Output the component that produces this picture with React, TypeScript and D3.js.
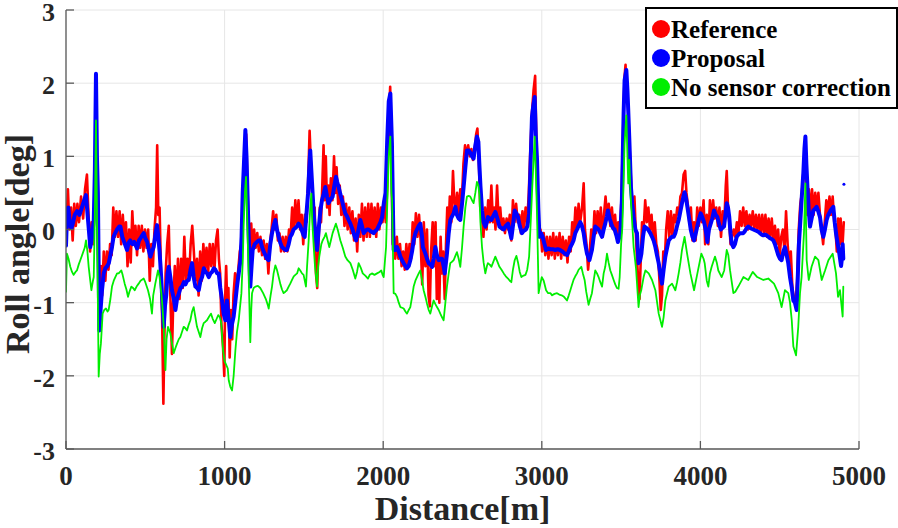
import React from "react";
import * as d3 from "d3";

const W = 898;
const H = 528;

const xTicks = [0, 1000, 2000, 3000, 4000, 5000];
const yTicks = [-3, -2, -1, 0, 1, 2, 3];
const legendLabels = ["Reference", "Proposal", "No sensor correction"];
const seriesColors = ["#ff0000", "#0000ff", "#00ee00"];

const referenceData: [number, number][] = [
[0,-0.1],[12,0.55],[22,0.0],[32,0.3],[42,-0.15],[52,0.35],[62,0.05],[72,0.35],[82,0.1],[95,0.45],[108,0.15],[120,0.55],[132,0.75],[142,0.2],[152,-0.3],[162,0.1],[172,-0.2],[180,0.5],[188,1.5],[196,0.6],[204,-0.6],[212,-1.1],[220,-0.5],[228,-0.9],[238,-0.3],[248,-0.7],[258,-0.3],[268,-0.55],[278,-0.2],[288,-0.35],[298,0.3],[308,-0.1],[318,0.25],[328,-0.1],[338,0.25],[348,-0.2],[358,0.2],[368,-0.15],[378,0.1],[388,-0.5],[398,0.0],[408,-0.45],[418,0.25],[428,-0.2],[438,0.05],[448,-0.35],[458,0.05],[468,-0.25],[478,0.05],[488,-0.3],[498,0.0],[508,-0.25],[518,0.0],[528,-0.7],[538,-0.2],[548,-0.5],[558,0.0],[568,0.3],[575,1.15],[582,0.2],[590,0.3],[598,-0.5],[606,-1.2],[614,-2.38],[620,-1.5],[628,-0.6],[638,-0.2],[648,0.05],[658,-0.9],[668,-1.7],[676,-1.0],[686,-0.5],[696,-1.0],[706,-0.4],[716,-0.95],[726,-0.4],[736,-0.8],[746,-0.1],[756,-0.7],[766,-0.4],[776,-0.65],[786,-0.2],[796,0.05],[806,-0.3],[816,-0.7],[826,-0.4],[836,-0.9],[846,-0.3],[856,-0.7],[866,-0.2],[876,-0.55],[886,-0.25],[896,-0.6],[906,-0.2],[916,-0.5],[926,-0.2],[936,-0.55],[946,-0.15],[956,0.0],[964,-0.4],[972,-0.6],[980,-1.3],[990,-1.6],[998,-2.0],[1004,-0.9],[1010,-0.5],[1016,-1.0],[1024,-0.8],[1032,-1.75],[1040,-1.1],[1048,-1.5],[1056,-0.9],[1066,-0.6],[1076,-0.8],[1086,-0.55],[1096,-0.3],[1106,-0.2],[1118,0.5],[1128,1.1],[1136,1.3],[1144,0.6],[1152,0.0],[1160,-0.2],[1168,0.08],[1176,-0.3],[1186,0.0],[1196,-0.25],[1206,-0.05],[1216,-0.3],[1226,-0.1],[1236,-0.35],[1246,-0.15],[1256,-0.4],[1266,-0.2],[1276,-0.6],[1286,-0.2],[1296,0.0],[1306,0.25],[1316,0.0],[1326,0.2],[1336,-0.15],[1346,-0.05],[1356,-0.3],[1366,-0.1],[1376,-0.3],[1386,-0.1],[1396,-0.3],[1406,0.0],[1416,-0.1],[1426,0.3],[1436,0.0],[1446,0.4],[1456,0.05],[1466,0.4],[1476,0.0],[1486,0.2],[1496,-0.2],[1506,0.2],[1516,0.1],[1526,0.6],[1536,1.35],[1544,0.9],[1552,0.5],[1560,0.0],[1568,0.3],[1576,-0.6],[1584,-0.8],[1592,-0.2],[1600,0.3],[1608,0.1],[1616,0.6],[1624,1.15],[1630,0.4],[1638,1.0],[1646,0.3],[1654,0.6],[1662,0.2],[1670,0.7],[1680,0.4],[1690,1.0],[1698,0.5],[1706,0.85],[1716,0.35],[1726,0.6],[1736,0.2],[1746,0.45],[1756,0.05],[1766,0.35],[1776,0.0],[1786,0.3],[1796,-0.05],[1806,0.25],[1816,-0.15],[1826,0.15],[1836,-0.3],[1846,0.2],[1856,-0.1],[1866,0.35],[1876,-0.15],[1886,0.3],[1896,-0.1],[1906,0.35],[1916,-0.1],[1926,0.35],[1936,-0.05],[1946,0.3],[1956,-0.1],[1966,0.35],[1976,0.0],[1986,0.3],[1996,0.1],[2006,0.4],[2016,0.1],[2026,0.6],[2036,1.5],[2044,1.95],[2052,1.0],[2060,-0.2],[2068,-0.1],[2076,-0.4],[2086,-0.1],[2096,-0.4],[2106,-0.2],[2116,-0.5],[2126,-0.3],[2136,-0.55],[2146,-0.2],[2156,-0.5],[2166,-0.2],[2176,-0.4],[2186,0.1],[2196,-0.2],[2206,0.22],[2216,-0.1],[2226,0.2],[2236,-0.15],[2246,-0.75],[2256,0.1],[2266,-0.5],[2276,0.0],[2286,-0.9],[2294,-1.05],[2302,-0.3],[2312,0.1],[2322,-0.5],[2330,0.1],[2338,-0.95],[2346,-0.4],[2354,-1.0],[2362,-0.1],[2370,-0.6],[2378,-0.3],[2388,-0.95],[2396,-0.2],[2404,0.3],[2412,0.0],[2420,0.45],[2430,0.1],[2440,0.8],[2448,0.4],[2456,0.25],[2466,0.5],[2476,0.2],[2486,0.55],[2496,0.4],[2506,0.9],[2516,1.15],[2526,1.0],[2536,1.15],[2546,1.0],[2556,1.1],[2566,0.95],[2576,1.05],[2586,1.3],[2594,1.38],[2602,1.0],[2612,0.3],[2622,0.2],[2632,-0.1],[2642,0.3],[2652,0.0],[2662,0.4],[2672,0.1],[2682,0.6],[2692,0.1],[2700,0.3],[2708,0.0],[2718,0.6],[2728,0.1],[2738,0.3],[2748,0.0],[2758,0.15],[2768,-0.05],[2778,0.15],[2788,0.0],[2798,0.2],[2808,-0.15],[2818,0.4],[2828,0.1],[2838,0.35],[2848,0.1],[2858,0.2],[2868,-0.05],[2878,0.25],[2888,0.0],[2898,0.3],[2908,0.1],[2918,0.5],[2928,1.1],[2938,1.6],[2948,1.9],[2958,2.1],[2966,1.2],[2974,0.5],[2982,-0.1],[2992,0.0],[3002,-0.3],[3012,-0.05],[3022,-0.35],[3032,-0.1],[3042,-0.4],[3052,-0.1],[3062,-0.35],[3072,-0.05],[3082,-0.4],[3092,-0.1],[3102,-0.35],[3112,-0.05],[3122,-0.4],[3132,-0.1],[3142,-0.35],[3152,-0.15],[3162,-0.45],[3172,-0.1],[3182,-0.3],[3192,0.1],[3202,-0.1],[3212,0.3],[3222,0.0],[3232,0.35],[3242,0.1],[3254,0.3],[3264,0.63],[3272,0.0],[3282,-0.2],[3292,-0.55],[3302,-0.3],[3312,0.0],[3322,-0.2],[3332,0.25],[3342,-0.05],[3352,0.25],[3362,0.0],[3372,0.3],[3382,-0.1],[3392,0.2],[3402,0.45],[3412,0.15],[3422,0.35],[3432,0.05],[3442,0.3],[3452,0.0],[3462,0.2],[3472,-0.1],[3482,0.1],[3492,-0.1],[3502,0.4],[3512,1.3],[3522,2.1],[3528,2.25],[3536,1.8],[3544,1.7],[3552,1.2],[3560,0.8],[3568,0.4],[3576,0.2],[3584,0.45],[3592,0.0],[3600,-0.4],[3608,-0.7],[3616,-0.95],[3624,-0.4],[3632,0.1],[3642,0.0],[3652,0.4],[3662,0.1],[3672,0.3],[3682,0.0],[3692,0.2],[3702,-0.15],[3712,0.1],[3722,-0.2],[3732,-0.3],[3742,-0.7],[3750,-1.1],[3758,-0.9],[3766,-0.3],[3774,-0.5],[3784,0.0],[3794,0.25],[3804,-0.1],[3814,0.25],[3824,-0.1],[3834,0.2],[3844,0.1],[3854,0.3],[3864,0.2],[3874,0.45],[3884,0.5],[3894,0.75],[3904,0.8],[3912,0.5],[3920,0.35],[3930,0.1],[3940,0.3],[3950,-0.15],[3960,0.1],[3970,-0.15],[3980,0.3],[3990,0.05],[4000,0.3],[4010,0.1],[4020,0.4],[4030,-0.2],[4040,0.2],[4050,-0.2],[4060,0.4],[4070,0.1],[4080,0.4],[4090,0.15],[4100,0.3],[4110,0.05],[4120,0.3],[4130,-0.1],[4140,0.25],[4150,0.05],[4160,0.6],[4166,0.8],[4174,0.3],[4182,0.1],[4190,-0.2],[4200,-0.1],[4210,0.0],[4220,-0.1],[4230,0.1],[4240,-0.05],[4250,0.25],[4260,0.05],[4270,0.3],[4280,0.05],[4290,0.25],[4300,0.0],[4310,0.2],[4320,0.05],[4330,0.25],[4340,0.0],[4350,0.2],[4360,0.0],[4370,0.2],[4380,-0.05],[4390,0.2],[4400,-0.05],[4410,0.2],[4420,-0.1],[4430,0.15],[4440,-0.1],[4450,0.15],[4460,-0.15],[4470,0.05],[4480,-0.2],[4490,0.0],[4500,-0.35],[4510,-0.1],[4520,0.0],[4530,-0.3],[4540,0.25],[4550,-0.2],[4560,-0.5],[4570,-0.3],[4580,-0.8],[4590,-0.95],[4600,-1.0],[4610,-0.7],[4620,0.0],[4630,0.35],[4640,0.5],[4650,0.8],[4658,1.05],[4666,0.6],[4674,0.2],[4684,0.55],[4694,0.2],[4704,0.55],[4714,0.2],[4724,0.5],[4734,0.3],[4744,0.5],[4754,0.2],[4764,0.0],[4774,-0.2],[4784,0.1],[4794,0.4],[4804,0.2],[4814,0.45],[4824,0.2],[4834,0.45],[4844,0.1],[4852,0.0],[4860,-0.3],[4868,0.15],[4876,-0.2],[4884,0.15],[4894,-0.3],[4904,0.1]
];

const proposalData: [number, number][] = [
[0,-0.22],[8,0.28],[15,0.3],[25,0.05],[35,0.02],[45,0.1],[55,0.2],[70,0.25],[85,0.2],[100,0.3],[115,0.4],[126,0.47],[140,0.1],[153,-0.24],[165,-0.1],[175,0.13],[182,0.8],[189,2.13],[195,1.0],[201,0.5],[210,-1.38],[218,-1.1],[227,-0.83],[238,-0.6],[248,-0.53],[260,-0.5],[270,-0.46],[280,-0.35],[290,-0.24],[300,-0.1],[310,-0.05],[322,0.0],[335,0.04],[343,0.04],[355,-0.1],[368,-0.18],[385,-0.28],[395,-0.18],[405,-0.15],[418,-0.2],[430,-0.17],[448,-0.26],[460,-0.15],[470,-0.12],[480,-0.08],[490,-0.05],[500,-0.12],[512,-0.17],[522,-0.28],[532,-0.37],[542,-0.3],[553,-0.24],[565,-0.05],[574,0.06],[582,-0.1],[590,-0.3],[600,-0.65],[608,-1.0],[616,-1.33],[624,-1.05],[632,-0.9],[640,-0.6],[648,-0.51],[658,-0.65],[668,-0.83],[680,-0.95],[690,-1.1],[700,-0.95],[712,-0.87],[722,-0.8],[732,-0.78],[743,-0.72],[753,-0.75],[764,-0.7],[774,-0.69],[785,-0.55],[795,-0.46],[805,-0.65],[816,-0.78],[827,-0.8],[837,-0.83],[848,-0.7],[858,-0.65],[869,-0.53],[880,-0.58],[890,-0.6],[900,-0.65],[911,-0.6],[921,-0.58],[932,-0.53],[942,-0.55],[953,-0.6],[963,-0.6],[973,-0.8],[984,-0.97],[994,-1.15],[1005,-1.24],[1015,-0.97],[1025,-1.2],[1036,-1.47],[1046,-1.3],[1057,-1.19],[1067,-1.0],[1078,-0.78],[1089,-0.6],[1100,-0.42],[1107,-0.1],[1114,0.49],[1122,0.9],[1131,1.36],[1138,1.0],[1148,0.2],[1155,-0.3],[1162,-0.78],[1170,-0.5],[1177,-0.28],[1190,-0.2],[1204,-0.17],[1215,-0.15],[1226,-0.15],[1236,-0.24],[1247,-0.3],[1257,-0.35],[1268,-0.4],[1278,-0.42],[1288,-0.2],[1299,-0.05],[1309,0.05],[1320,0.13],[1330,0.0],[1341,-0.1],[1351,-0.18],[1362,-0.24],[1372,-0.26],[1383,-0.28],[1393,-0.28],[1404,-0.2],[1414,-0.1],[1425,-0.06],[1435,0.0],[1446,0.02],[1456,0.04],[1467,0.08],[1477,0.05],[1488,-0.02],[1498,-0.08],[1505,-0.1],[1512,0.1],[1526,0.49],[1533,0.8],[1540,1.08],[1547,0.8],[1555,0.49],[1562,0.2],[1572,-0.05],[1583,-0.28],[1593,0.0],[1604,0.26],[1614,0.4],[1625,0.49],[1635,0.58],[1646,0.45],[1655,0.36],[1665,0.4],[1681,0.45],[1692,0.6],[1702,0.72],[1710,0.65],[1719,0.58],[1730,0.48],[1740,0.4],[1751,0.3],[1761,0.22],[1772,0.18],[1782,0.13],[1793,0.08],[1807,0.0],[1818,-0.08],[1829,-0.15],[1840,-0.05],[1856,0.13],[1866,0.05],[1877,-0.05],[1887,-0.02],[1898,0.0],[1908,0.0],[1919,-0.02],[1940,-0.05],[1950,-0.02],[1961,0.0],[1972,0.05],[1983,0.1],[1993,0.17],[2004,0.36],[2015,0.5],[2025,1.2],[2035,1.75],[2045,1.86],[2055,1.18],[2062,0.2],[2066,-0.28],[2077,-0.28],[2087,-0.24],[2098,-0.3],[2108,-0.37],[2119,-0.42],[2129,-0.46],[2140,-0.5],[2150,-0.53],[2161,-0.5],[2171,-0.42],[2182,-0.3],[2192,-0.15],[2203,-0.05],[2213,0.0],[2224,0.05],[2234,0.08],[2245,-0.1],[2250,-0.24],[2266,-0.33],[2276,-0.4],[2287,-0.46],[2297,-0.48],[2308,-0.51],[2318,-0.4],[2329,-0.24],[2339,-0.35],[2350,-0.42],[2360,-0.4],[2371,-0.4],[2381,-0.5],[2388,-0.6],[2402,-0.33],[2413,-0.05],[2423,0.13],[2434,0.18],[2444,0.22],[2455,0.31],[2465,0.2],[2476,0.15],[2486,0.13],[2497,0.35],[2507,0.58],[2518,0.85],[2528,1.08],[2539,1.08],[2549,1.05],[2560,1.0],[2570,0.97],[2581,1.15],[2591,1.27],[2600,1.2],[2606,0.9],[2613,0.6],[2623,0.26],[2633,0.1],[2644,0.04],[2654,0.1],[2660,0.17],[2672,0.15],[2682,0.13],[2693,0.18],[2707,0.24],[2720,0.15],[2733,0.04],[2746,0.02],[2760,0.0],[2773,0.05],[2787,0.08],[2798,-0.02],[2808,-0.12],[2818,0.05],[2829,0.26],[2840,0.22],[2850,0.17],[2861,0.05],[2875,-0.05],[2885,-0.02],[2900,0.0],[2910,0.05],[2920,0.22],[2928,0.8],[2938,1.54],[2947,1.7],[2955,1.81],[2962,1.3],[2970,0.95],[2978,0.3],[2985,-0.1],[2995,-0.05],[3005,-0.1],[3016,-0.19],[3027,-0.28],[3040,-0.26],[3055,-0.27],[3070,-0.27],[3085,-0.28],[3100,-0.27],[3115,-0.28],[3130,-0.3],[3145,-0.33],[3159,-0.35],[3170,-0.3],[3180,-0.24],[3190,-0.2],[3200,-0.15],[3211,-0.05],[3222,0.0],[3232,0.05],[3243,0.1],[3253,0.05],[3264,-0.05],[3274,-0.2],[3285,-0.33],[3300,-0.42],[3316,-0.28],[3327,-0.1],[3337,0.04],[3348,0.02],[3358,0.0],[3369,-0.05],[3380,-0.1],[3390,0.0],[3400,0.08],[3410,0.18],[3417,0.26],[3428,0.15],[3438,0.08],[3449,0.02],[3459,0.0],[3470,-0.08],[3480,-0.17],[3490,-0.1],[3495,-0.05],[3505,0.4],[3510,0.95],[3516,1.6],[3522,2.04],[3533,2.18],[3540,1.9],[3545,1.63],[3552,1.22],[3562,0.58],[3570,0.35],[3579,0.17],[3590,0.0],[3600,-0.05],[3610,-0.46],[3620,-0.42],[3628,-0.33],[3638,-0.1],[3648,0.04],[3660,0.02],[3670,0.0],[3684,-0.05],[3695,-0.1],[3705,-0.15],[3716,-0.24],[3726,-0.35],[3737,-0.46],[3747,-0.6],[3758,-0.74],[3768,-0.55],[3779,-0.37],[3790,-0.25],[3800,-0.15],[3811,-0.12],[3821,-0.1],[3832,-0.1],[3842,-0.05],[3853,0.05],[3863,0.13],[3874,0.25],[3884,0.36],[3893,0.45],[3900,0.51],[3910,0.42],[3918,0.31],[3929,0.15],[3939,0.0],[3950,-0.1],[3960,-0.15],[3971,-0.05],[3981,0.05],[3992,0.15],[4002,0.22],[4012,0.17],[4023,0.1],[4033,0.0],[4044,-0.17],[4054,0.0],[4065,0.08],[4075,0.15],[4086,0.26],[4096,0.2],[4107,0.17],[4117,0.08],[4128,0.0],[4138,0.02],[4149,0.04],[4158,0.2],[4166,0.36],[4174,0.3],[4182,0.17],[4190,-0.05],[4197,-0.19],[4208,-0.24],[4218,-0.2],[4229,-0.1],[4240,-0.07],[4250,-0.05],[4260,-0.05],[4271,-0.05],[4281,-0.02],[4292,0.02],[4302,0.04],[4313,0.02],[4323,0.01],[4334,0.0],[4344,-0.01],[4355,-0.02],[4365,-0.03],[4376,-0.05],[4386,-0.07],[4397,-0.08],[4407,-0.07],[4418,-0.08],[4428,-0.1],[4439,-0.12],[4449,-0.13],[4460,-0.15],[4470,-0.2],[4481,-0.28],[4491,-0.35],[4502,-0.4],[4512,-0.42],[4523,-0.3],[4533,-0.24],[4544,-0.35],[4554,-0.46],[4565,-0.65],[4575,-0.78],[4586,-0.97],[4596,-1.0],[4607,-1.1],[4614,-0.65],[4621,-0.2],[4628,0.04],[4638,0.4],[4649,0.77],[4656,1.1],[4662,1.27],[4668,0.9],[4675,0.58],[4682,0.3],[4691,0.04],[4701,0.15],[4712,0.26],[4722,0.28],[4733,0.31],[4743,0.25],[4754,0.17],[4764,0.0],[4775,-0.1],[4785,0.0],[4796,0.13],[4806,0.2],[4821,0.26],[4838,0.31],[4847,0.1],[4855,-0.05],[4866,-0.2],[4876,-0.33],[4887,-0.5],[4891,-0.42],[4897,-0.2],[4901,-0.4]
];

const proposalOutlier: [number, number][] = [[4905, 0.62]];

const noCorrectionData: [number, number][] = [
[0,-0.85],[6,-0.33],[16,-0.4],[27,-0.51],[38,-0.58],[48,-0.62],[60,-0.58],[69,-0.56],[80,-0.48],[90,-0.42],[105,-0.33],[118,-0.25],[126,-0.15],[135,-0.3],[143,-0.51],[153,-0.7],[160,-0.83],[170,-0.7],[175,-0.65],[182,0.2],[189,1.49],[195,0.3],[200,-0.8],[206,-2.01],[213,-1.7],[220,-1.56],[231,-1.15],[241,-1.1],[252,-1.08],[262,-1.12],[269,-1.1],[280,-0.95],[290,-0.78],[301,-0.7],[311,-0.65],[322,-0.6],[332,-0.6],[349,-0.56],[357,-0.62],[370,-0.74],[381,-0.82],[391,-0.92],[400,-0.85],[412,-0.78],[423,-0.8],[433,-0.83],[445,-0.78],[458,-0.74],[470,-0.7],[490,-0.67],[500,-0.72],[517,-0.83],[530,-0.95],[542,-1.15],[550,-0.9],[563,-0.74],[580,-0.56],[590,-0.65],[601,-0.87],[608,-1.05],[616,-1.33],[627,-1.92],[634,-1.5],[643,-1.33],[658,-1.42],[668,-1.55],[679,-1.69],[690,-1.62],[700,-1.56],[711,-1.5],[721,-1.47],[742,-1.33],[753,-1.35],[763,-1.38],[774,-1.3],[784,-1.24],[795,-1.12],[805,-1.06],[816,-1.2],[826,-1.33],[837,-1.4],[847,-1.47],[858,-1.35],[868,-1.28],[879,-1.26],[889,-1.24],[900,-1.2],[914,-1.15],[925,-1.22],[938,-1.28],[950,-1.22],[960,-1.17],[970,-1.2],[979,-1.28],[990,-1.65],[1000,-1.8],[1010,-1.85],[1020,-1.9],[1026,-2.06],[1036,-2.15],[1047,-2.2],[1057,-2.0],[1068,-1.65],[1078,-1.4],[1089,-1.24],[1100,-1.0],[1106,-0.87],[1115,-0.4],[1120,0.04],[1128,0.5],[1135,0.72],[1142,0.2],[1150,-0.5],[1156,-1.0],[1162,-1.54],[1168,-1.1],[1173,-0.87],[1183,-0.8],[1194,-0.78],[1210,-0.77],[1225,-0.8],[1243,-0.87],[1260,-0.95],[1272,-1.03],[1278,-1.08],[1290,-0.9],[1299,-0.78],[1309,-0.6],[1320,-0.49],[1330,-0.55],[1341,-0.65],[1352,-0.75],[1362,-0.82],[1372,-0.87],[1383,-0.85],[1393,-0.83],[1404,-0.78],[1414,-0.74],[1425,-0.69],[1436,-0.64],[1446,-0.62],[1457,-0.6],[1467,-0.53],[1477,-0.56],[1488,-0.6],[1498,-0.62],[1513,-0.78],[1520,-0.5],[1530,-0.15],[1540,0.3],[1547,0.49],[1553,0.1],[1562,-0.24],[1570,-0.5],[1583,-0.78],[1590,-0.5],[1597,-0.37],[1610,-0.2],[1618,-0.15],[1630,-0.1],[1639,-0.05],[1650,-0.15],[1660,-0.24],[1670,-0.15],[1681,-0.05],[1702,0.08],[1713,0.0],[1730,-0.15],[1745,-0.25],[1761,-0.37],[1775,-0.42],[1793,-0.46],[1808,-0.55],[1824,-0.67],[1835,-0.58],[1845,-0.46],[1858,-0.52],[1871,-0.6],[1887,-0.63],[1904,-0.67],[1915,-0.62],[1929,-0.6],[1945,-0.62],[1961,-0.6],[1977,-0.58],[1988,-0.56],[1996,-0.62],[2003,-0.65],[2012,-0.4],[2018,-0.24],[2025,0.3],[2035,1.0],[2045,1.27],[2052,0.5],[2056,0.4],[2066,-0.87],[2077,-0.88],[2087,-0.92],[2098,-1.0],[2108,-1.06],[2119,-1.07],[2129,-1.08],[2140,-1.12],[2150,-1.15],[2161,-1.1],[2171,-1.06],[2182,-0.92],[2192,-0.78],[2203,-0.7],[2213,-0.65],[2224,-0.6],[2234,-0.56],[2245,-0.7],[2255,-0.83],[2266,-0.92],[2276,-1.01],[2287,-1.1],[2297,-1.15],[2308,-1.05],[2318,-0.97],[2329,-1.02],[2339,-1.06],[2350,-1.1],[2360,-1.15],[2371,-1.2],[2381,-1.24],[2392,-1.0],[2402,-0.78],[2413,-0.6],[2423,-0.46],[2434,-0.44],[2444,-0.42],[2455,-0.36],[2465,-0.31],[2476,-0.4],[2486,-0.51],[2497,-0.25],[2507,0.04],[2518,0.3],[2528,0.45],[2539,0.46],[2549,0.45],[2560,0.4],[2570,0.36],[2581,0.5],[2591,0.65],[2600,0.6],[2606,0.49],[2613,0.1],[2623,-0.24],[2633,-0.45],[2644,-0.6],[2654,-0.5],[2660,-0.46],[2672,-0.48],[2682,-0.51],[2693,-0.45],[2707,-0.37],[2720,-0.44],[2733,-0.51],[2746,-0.55],[2760,-0.6],[2773,-0.64],[2787,-0.67],[2798,-0.7],[2808,-0.72],[2818,-0.55],[2829,-0.42],[2840,-0.36],[2850,-0.45],[2861,-0.58],[2871,-0.65],[2885,-0.63],[2897,-0.62],[2908,-0.55],[2920,-0.37],[2928,0.0],[2938,0.49],[2947,0.9],[2955,1.27],[2962,0.8],[2970,0.2],[2980,-0.87],[2990,-0.75],[3000,-0.65],[3012,-0.7],[3027,-0.83],[3040,-0.87],[3055,-0.87],[3065,-0.9],[3080,-0.88],[3096,-0.87],[3110,-0.89],[3125,-0.9],[3140,-0.92],[3159,-0.97],[3170,-0.9],[3180,-0.83],[3190,-0.76],[3200,-0.69],[3211,-0.64],[3222,-0.6],[3232,-0.55],[3249,-0.51],[3259,-0.6],[3270,-0.69],[3280,-0.85],[3295,-1.03],[3305,-0.95],[3316,-0.87],[3327,-0.7],[3337,-0.56],[3348,-0.6],[3358,-0.65],[3369,-0.72],[3380,-0.78],[3390,-0.6],[3400,-0.51],[3411,-0.33],[3421,-0.45],[3432,-0.56],[3442,-0.62],[3453,-0.69],[3463,-0.75],[3474,-0.8],[3484,-0.81],[3491,-0.65],[3500,-0.2],[3508,0.04],[3516,0.7],[3522,1.18],[3533,1.56],[3540,1.0],[3545,0.63],[3552,0.95],[3557,0.6],[3564,0.31],[3579,-0.24],[3594,-0.53],[3610,-1.06],[3618,-0.9],[3627,-0.83],[3642,-0.65],[3653,-0.56],[3674,-0.6],[3695,-0.69],[3716,-0.83],[3737,-1.15],[3758,-1.33],[3768,-1.2],[3779,-0.97],[3800,-0.78],[3821,-0.74],[3842,-0.83],[3853,-0.72],[3863,-0.6],[3874,-0.45],[3884,-0.28],[3900,-0.1],[3916,-0.33],[3937,-0.6],[3960,-0.83],[3981,-0.6],[4006,-0.33],[4020,-0.4],[4027,-0.46],[4040,-0.7],[4050,-0.78],[4060,-0.6],[4071,-0.51],[4092,-0.37],[4103,-0.45],[4113,-0.56],[4134,-0.65],[4150,-0.56],[4166,-0.28],[4176,-0.35],[4187,-0.56],[4208,-0.87],[4220,-0.85],[4239,-0.78],[4271,-0.65],[4302,-0.69],[4330,-0.58],[4358,-0.65],[4397,-0.69],[4428,-0.67],[4464,-0.74],[4491,-0.87],[4512,-1.06],[4533,-0.83],[4554,-0.87],[4565,-1.0],[4576,-1.24],[4586,-1.6],[4603,-1.72],[4617,-1.33],[4628,-0.87],[4638,-0.65],[4653,-0.05],[4662,0.63],[4670,-0.42],[4683,-0.69],[4701,-0.51],[4723,-0.37],[4744,-0.42],[4765,-0.69],[4786,-0.56],[4807,-0.42],[4834,-0.33],[4855,-0.6],[4868,-0.92],[4880,-0.83],[4897,-1.19],[4901,-0.78]
];

const FONT = "'Liberation Serif', 'Times New Roman', serif";
const TEXT = "#262626";
const AXIS = "#5a5a5a";
const GRID = "#e6e6e6";

export default function App() {
  const left = 66, right = 859, top = 10, bottom = 449;
  const x = d3.scaleLinear().domain([0, 5000]).range([left, right]);
  const y = d3.scaleLinear().domain([-3, 3]).range([bottom, top]);
  const line = d3.line<[number, number]>().x(d => x(d[0])).y(d => y(d[1]));

  const lx = 646, ly = 8, lw = 251, lh = 100;
  const rowY = [29, 58, 87];

  return (
    <svg width={W} height={H} style={{ position: "absolute", left: 0, top: 0, background: "#fff" }}
      fontFamily={FONT}>
      <defs>
        <clipPath id="plotclip">
          <rect x={left} y={top} width={right - left} height={bottom - top} />
        </clipPath>
      </defs>
      {yTicks.map(t => (
        <line key={"gy" + t} x1={left} x2={right} y1={y(t)} y2={y(t)} stroke={GRID} strokeWidth={1} />
      ))}
      {xTicks.map(t => (
        <line key={"gx" + t} x1={x(t)} x2={x(t)} y1={top} y2={bottom} stroke={GRID} strokeWidth={1} />
      ))}
      <g clipPath="url(#plotclip)" fill="none" strokeLinejoin="round" strokeLinecap="round">
        <path d={line(referenceData) || ""} stroke={seriesColors[0]} strokeWidth={2.6} />
        <path d={line(proposalData) || ""} stroke={seriesColors[1]} strokeWidth={4} />
        {proposalOutlier.map((p, i) => (
          <circle key={"po" + i} cx={x(p[0])} cy={y(p[1])} r={1.5} fill={seriesColors[1]} />
        ))}
        <path d={line(noCorrectionData) || ""} stroke={seriesColors[2]} strokeWidth={1.8} />
      </g>
      <line x1={left} x2={left} y1={top} y2={bottom} stroke={AXIS} strokeWidth={1.3} />
      <line x1={left} x2={right} y1={bottom} y2={bottom} stroke={AXIS} strokeWidth={1.3} />
      {yTicks.map(t => (
        <g key={"yt" + t}>
          <line x1={left} x2={left + 8} y1={y(t)} y2={y(t)} stroke={AXIS} strokeWidth={1.3} />
          <text x={left - 11} y={y(t)} dy="0.42em" textAnchor="end" fontSize={26} fontWeight="bold" fill={TEXT}>
            {t}
          </text>
        </g>
      ))}
      {xTicks.map(t => (
        <g key={"xt" + t}>
          <line x1={x(t)} x2={x(t)} y1={bottom} y2={bottom - 8} stroke={AXIS} strokeWidth={1.3} />
          <text x={x(t)} y={485} textAnchor="middle" fontSize={27} fontWeight="bold" fill={TEXT}>
            {t}
          </text>
        </g>
      ))}
      <text x={(left + right) / 2} y={520} textAnchor="middle" fontSize={34} fontWeight="bold" fill={TEXT}>
        Distance[m]
      </text>
      <text transform="translate(29, 244) rotate(-90)" textAnchor="middle" fontSize={34}
        fontWeight="bold" fill={TEXT}>
        Roll angle[deg]
      </text>
      <rect x={lx} y={ly} width={lw} height={lh} fill="#fff" stroke="#000" strokeWidth={2} />
      {legendLabels.map((lab, i) => (
        <g key={lab}>
          <circle cx={661} cy={rowY[i]} r={9} fill={seriesColors[i]} />
          <text x={671} y={rowY[i] + 8.5} fontSize={25} fontWeight="bold" fill="#000">{lab}</text>
        </g>
      ))}
    </svg>
  );
}
